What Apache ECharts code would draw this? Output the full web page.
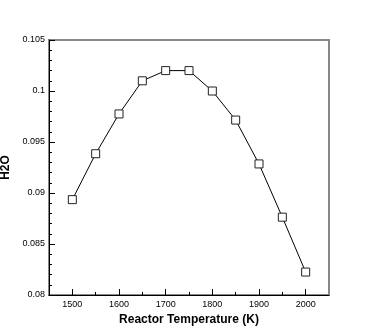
<!DOCTYPE html>
<html>
<head>
<meta charset="utf-8">
<script src="https://cdn.jsdelivr.net/npm/echarts@6/dist/echarts.min.js"></script>
<style>
  html, body { margin: 0; padding: 0; background: #fff; }
  #chart { width: 374px; height: 332px; }
</style>
</head>
<body>
<div id="chart"></div>
<script>
// reactor temperature (K) vs H2O
var temperatures = [1500, 1550, 1600, 1650, 1700, 1750, 1800, 1850, 1900, 1950, 2000]
var h2o = [0.08935, 0.09385, 0.09775, 0.1010, 0.1020, 0.1020, 0.1000, 0.09715, 0.09285, 0.08763, 0.08225]
var xMajorTicks = [1500, 1600, 1700, 1800, 1900, 2000]
var xMinorTicks = [1550, 1650, 1750, 1850, 1950]

var chart = echarts.init(document.getElementById('chart'))

var points = temperatures.map(function(t, i) { return [t, h2o[i]] })
var font = 'Liberation Sans'

chart.setOption({
  animation: false,
  grid: {
    left: 49,
    right: 45,
    top: 40,
    bottom: 37,
    outerBoundsMode: 'none',
    containLabel: false,
    show: true,
    borderColor: '#888',
    borderWidth: 2
  },
  xAxis: [{
    type: 'value',
    min: 1450,
    max: 2050,
    interval: 50,
    name: 'Reactor Temperature (K)',
    nameLocation: 'middle',
    nameGap: 17,
    nameTextStyle: { fontFamily: font, fontWeight: 'bold', fontSize: 12, color: '#000' },
    axisLine: { lineStyle: { color: '#000', width: 1 } },
    axisTick: { inside: true, length: 6, customValues: xMajorTicks, lineStyle: { color: '#000' } },
    splitLine: { show: false },
    axisLabel: {
      fontFamily: font,
      fontSize: 9,
      color: '#000',
      margin: 5,
      customValues: xMajorTicks,
      formatter: function(v) { return String(v) }
    }
  }, {
    // minor ticks only
    type: 'value',
    position: 'bottom',
    min: 1450,
    max: 2050,
    interval: 50,
    axisLine: { show: false },
    axisTick: { inside: true, length: 3, customValues: xMinorTicks, lineStyle: { color: '#000' } },
    axisLabel: { show: false },
    splitLine: { show: false }
  }],
  yAxis: {
    type: 'value',
    min: 0.08,
    max: 0.105,
    interval: 0.005,
    name: 'H2O',
    nameLocation: 'middle',
    nameGap: 30,
    nameTextStyle: { fontFamily: font, fontWeight: 'bold', fontSize: 12, color: '#000' },
    axisLine: { lineStyle: { color: '#000', width: 1 } },
    axisTick: { inside: true, length: 6, lineStyle: { color: '#000' } },
    minorTick: { show: true, splitNumber: 5, length: 3, lineStyle: { color: '#000' } },
    splitLine: { show: false },
    axisLabel: {
      fontFamily: font,
      fontSize: 9,
      color: '#000',
      margin: 4,
      formatter: function(v) { return String(+v.toFixed(3)) }
    }
  },
  series: [{
    type: 'line',
    data: points,
    symbol: 'rect',
    symbolSize: 8,
    lineStyle: { color: '#000', width: 1 },
    itemStyle: { color: '#fff', borderColor: '#222', borderWidth: 1 }
  }]
})
</script>
</body>
</html>
